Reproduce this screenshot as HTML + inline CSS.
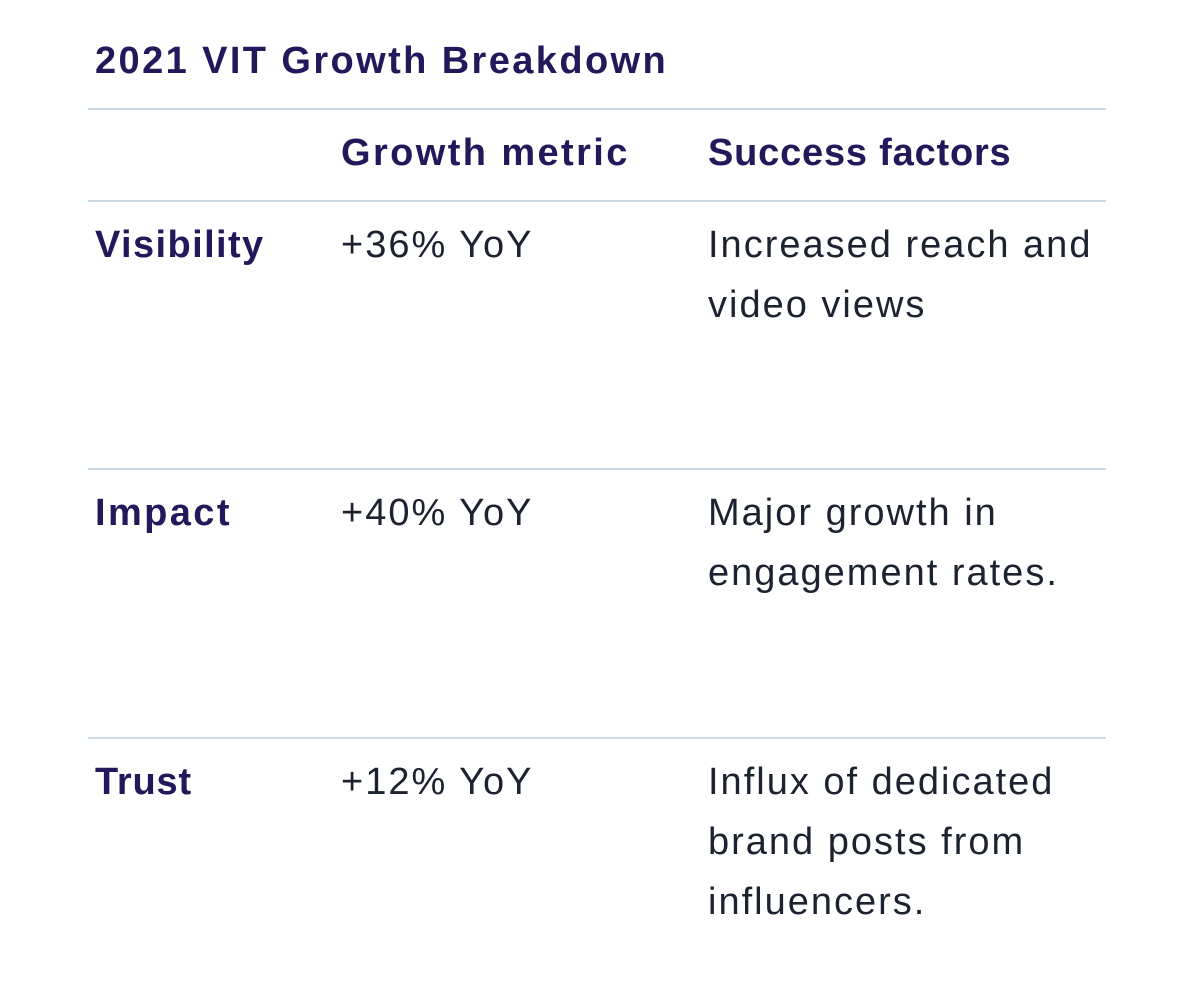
<!DOCTYPE html>
<html><head><meta charset="utf-8"><style>
html,body{margin:0;padding:0;background:#fff;width:1195px;height:988px;overflow:hidden}
body{position:relative;font-family:"Liberation Sans",sans-serif}
.t{position:absolute;font-size:38px;line-height:60px;white-space:nowrap}
.b{font-weight:bold;color:#22195a;letter-spacing:2.4px}
.r{color:#1c2230;letter-spacing:2px}
.hr{position:absolute;left:88px;width:1018px;height:2px;background:#cbd9e4}
</style></head><body>
<div class="t b" style="left:95px;top:31px;">2021 VIT Growth Breakdown</div>
<div class="hr" style="top:108px"></div>
<div class="t b" style="left:341px;top:123px;">Growth metric</div>
<div class="t b" style="left:708px;top:123px;letter-spacing:0.8px">Success factors</div>
<div class="hr" style="top:200px"></div>

<div class="t b" style="left:95px;top:215px;letter-spacing:1.4px">Visibility</div>
<div class="t r" style="left:341px;top:215px;">+36% YoY</div>
<div class="t r" style="left:708px;top:215px;">Increased reach and<br>video views</div>
<div class="hr" style="top:468px"></div>

<div class="t b" style="left:95px;top:483px;">Impact</div>
<div class="t r" style="left:341px;top:483px;">+40% YoY</div>
<div class="t r" style="left:708px;top:483px;">Major growth in<br>engagement rates.</div>
<div class="hr" style="top:737px"></div>

<div class="t b" style="left:95px;top:752px;letter-spacing:0.8px">Trust</div>
<div class="t r" style="left:341px;top:752px;">+12% YoY</div>
<div class="t r" style="left:708px;top:752px;">Influx of dedicated<br>brand posts from<br>influencers.</div>
</body></html>
